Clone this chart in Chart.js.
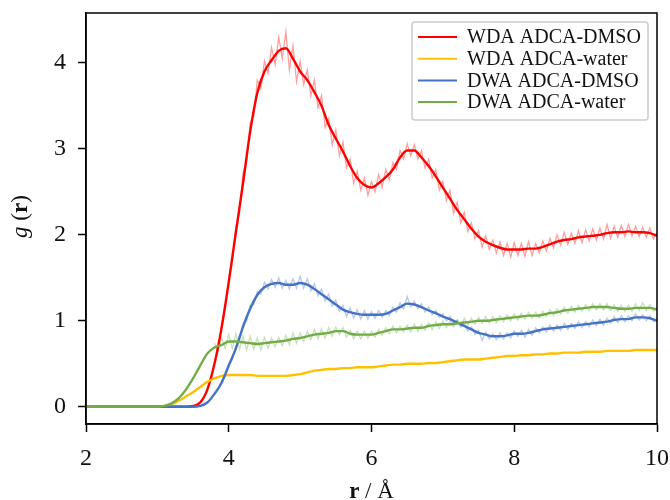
<!DOCTYPE html>
<html lang="en">
<head>
    <meta charset="UTF-8">
    <title>g(r) ADCA</title>
    <style>
        html, body { margin: 0; padding: 0; background: #fff; }
        .chart-container { width: 670px; height: 500px; }
    </style>
</head>
<body>
    <div class="chart-container">
        <canvas id="rdfChart"></canvas>
    </div>

    <script src="https://cdn.jsdelivr.net/npm/chart.js"></script>
    <script>
        // r grid (Å) for the averaged curves
        const rSmooth = [
            2.0, 2.1, 2.2, 2.3, 2.4, 2.5, 2.6, 2.7, 2.8, 2.9,
            3.0, 3.1, 3.2, 3.3, 3.4, 3.5, 3.6, 3.7, 3.8, 3.9,
            4.0, 4.1, 4.2, 4.3, 4.4, 4.5, 4.6, 4.7, 4.8, 4.9,
            5.0, 5.1, 5.2, 5.3, 5.4, 5.5, 5.6, 5.7, 5.8, 5.9,
            6.0, 6.1, 6.2, 6.3, 6.4, 6.5, 6.6, 6.7, 6.8, 6.9,
            7.0, 7.1, 7.2, 7.3, 7.4, 7.5, 7.6, 7.7, 7.8, 7.9,
            8.0, 8.1, 8.2, 8.3, 8.4, 8.5, 8.6, 8.7, 8.8, 8.9,
            9.0, 9.1, 9.2, 9.3, 9.4, 9.5, 9.6, 9.7, 9.8, 9.9,
            10.0
        ];

        const wdaDmso = [
            0, 0, 0, 0, 0, 0, 0, 0, 0, 0,
            0, 0, 0, 0, 0, 0.01, 0.05, 0.2, 0.5, 0.92,
            1.45, 2.03, 2.6, 3.2, 3.65, 3.9, 4.03, 4.14, 4.17, 4.05,
            3.9, 3.8, 3.66, 3.5, 3.28, 3.12, 2.97, 2.8, 2.66, 2.58,
            2.55, 2.6, 2.67, 2.76, 2.9, 2.98, 2.98, 2.9, 2.8, 2.68,
            2.55, 2.42, 2.29, 2.18, 2.07, 1.98, 1.92, 1.88, 1.85, 1.83,
            1.83, 1.83, 1.84, 1.84, 1.86, 1.89, 1.92, 1.94, 1.95, 1.97,
            1.98, 1.99, 2.0, 2.02, 2.03, 2.03, 2.04, 2.03, 2.03, 2.02,
            1.99
        ];

        const wdaWater = [
            0, 0, 0, 0, 0, 0, 0, 0, 0, 0,
            0, 0.01, 0.03, 0.07, 0.12, 0.17, 0.23, 0.29, 0.33, 0.36,
            0.37, 0.37, 0.37, 0.37, 0.36, 0.36, 0.36, 0.36, 0.36, 0.37,
            0.38, 0.4, 0.42, 0.43, 0.44, 0.44, 0.45, 0.45, 0.46, 0.46,
            0.46, 0.47, 0.48, 0.49, 0.49, 0.5, 0.5, 0.5, 0.51, 0.51,
            0.52, 0.53, 0.54, 0.55, 0.55, 0.55, 0.56, 0.57, 0.58, 0.59,
            0.59, 0.6, 0.6, 0.61, 0.61, 0.62, 0.62, 0.63, 0.63, 0.63,
            0.64, 0.64, 0.64, 0.65, 0.65, 0.65, 0.65, 0.66, 0.66, 0.66,
            0.66
        ];

        const dwaDmso = [
            0, 0, 0, 0, 0, 0, 0, 0, 0, 0,
            0, 0, 0, 0, 0, 0, 0.01, 0.05, 0.15, 0.28,
            0.48, 0.68, 0.93, 1.14, 1.3, 1.39, 1.43, 1.44, 1.42, 1.42,
            1.44, 1.42, 1.37, 1.31, 1.25, 1.19, 1.13, 1.1, 1.08, 1.07,
            1.07, 1.07, 1.08, 1.12, 1.16, 1.2, 1.19, 1.16, 1.12, 1.09,
            1.05, 1.02, 0.98, 0.94, 0.9, 0.86, 0.84, 0.82, 0.82, 0.83,
            0.85, 0.85, 0.86, 0.88, 0.9, 0.91, 0.92, 0.93, 0.94, 0.95,
            0.96, 0.97, 0.98, 0.99, 1.01, 1.02, 1.02, 1.04, 1.04, 1.03,
            1.0
        ];

        const dwaWater = [
            0, 0, 0, 0, 0, 0, 0, 0, 0, 0,
            0, 0.01, 0.04, 0.1, 0.2, 0.33, 0.48, 0.62, 0.69, 0.72,
            0.76, 0.76, 0.75, 0.74, 0.73, 0.74, 0.75, 0.76, 0.77, 0.79,
            0.8, 0.82, 0.84, 0.85, 0.86, 0.88, 0.88, 0.85, 0.84, 0.84,
            0.84, 0.86, 0.88, 0.9, 0.9, 0.91, 0.92, 0.92, 0.94, 0.95,
            0.96, 0.96, 0.97, 0.98, 0.99, 1.0, 1.0, 1.01, 1.02, 1.03,
            1.04, 1.05, 1.06, 1.06, 1.07, 1.09, 1.1, 1.12, 1.13, 1.14,
            1.15, 1.16, 1.16, 1.16, 1.15, 1.14, 1.14, 1.15, 1.15, 1.15,
            1.13
        ];

        // r grid (Å) for the raw, unaveraged curves
        const rRaw = [
            3.8, 3.85, 3.9, 3.95,
            4.0, 4.05, 4.1, 4.15, 4.2, 4.25, 4.3, 4.35, 4.4, 4.45,
            4.5, 4.55, 4.6, 4.65, 4.7, 4.75, 4.8, 4.85, 4.9, 4.95,
            5.0, 5.05, 5.1, 5.15, 5.2, 5.25, 5.3, 5.35, 5.4, 5.45,
            5.5, 5.55, 5.6, 5.65, 5.7, 5.75, 5.8, 5.85, 5.9, 5.95,
            6.0, 6.05, 6.1, 6.15, 6.2, 6.25, 6.3, 6.35, 6.4, 6.45,
            6.5, 6.55, 6.6, 6.65, 6.7, 6.75, 6.8, 6.85, 6.9, 6.95,
            7.0, 7.05, 7.1, 7.15, 7.2, 7.25, 7.3, 7.35, 7.4, 7.45,
            7.5, 7.55, 7.6, 7.65, 7.7, 7.75, 7.8, 7.85, 7.9, 7.95,
            8.0, 8.05, 8.1, 8.15, 8.2, 8.25, 8.3, 8.35, 8.4, 8.45,
            8.5, 8.55, 8.6, 8.65, 8.7, 8.75, 8.8, 8.85, 8.9, 8.95,
            9.0, 9.05, 9.1, 9.15, 9.2, 9.25, 9.3, 9.35, 9.4, 9.45,
            9.5, 9.55, 9.6, 9.65, 9.7, 9.75, 9.8, 9.85, 9.9, 9.95,
            10.0
        ];

        const wdaDmsoRaw = [
            0.52, 0.66, 0.96, 1.14,
            1.50, 1.70, 2.10, 2.25, 2.72, 2.85, 3.30, 3.38, 3.80, 3.70,
            4.02, 3.88, 4.18, 3.98, 4.30, 4.05, 4.36, 3.92, 4.20, 3.78,
            4.02, 3.75, 3.92, 3.62, 3.80, 3.48, 3.62, 3.25, 3.35, 3.05,
            3.22, 2.92, 3.08, 2.78, 2.88, 2.60, 2.74, 2.52, 2.66, 2.46,
            2.62, 2.50, 2.70, 2.55, 2.76, 2.64, 2.84, 2.76, 2.98, 2.88,
            3.06, 2.92, 3.05, 2.88, 2.98, 2.78, 2.88, 2.66, 2.76, 2.52,
            2.62, 2.40, 2.52, 2.25, 2.38, 2.14, 2.26, 2.04, 2.14, 1.95,
            2.05, 1.86, 1.99, 1.83, 1.94, 1.79, 1.92, 1.76, 1.90, 1.74,
            1.91, 1.76, 1.90, 1.75, 1.92, 1.76, 1.90, 1.79, 1.93, 1.81,
            1.96, 1.85, 2.00, 1.88, 2.03, 1.89, 2.02, 1.90, 2.05, 1.91,
            2.06, 1.93, 2.07, 1.94, 2.08, 1.95, 2.12, 1.96, 2.10, 1.97,
            2.11, 1.98, 2.12, 1.99, 2.10, 1.98, 2.09, 1.97, 2.08, 1.95,
            2.03
        ];

        const dwaDmsoRaw = [
            0.16, 0.20, 0.30, 0.36,
            0.50, 0.55, 0.71, 0.77, 0.97, 1.00, 1.18, 1.19, 1.34, 1.31,
            1.45, 1.37, 1.48, 1.39, 1.50, 1.38, 1.47, 1.37, 1.49, 1.38,
            1.52, 1.38, 1.49, 1.35, 1.43, 1.29, 1.37, 1.23, 1.31, 1.17,
            1.24, 1.11, 1.18, 1.05, 1.15, 1.03, 1.13, 1.02, 1.12, 1.02,
            1.11, 1.03, 1.12, 1.04, 1.12, 1.06, 1.16, 1.10, 1.21, 1.14,
            1.28, 1.16, 1.23, 1.14, 1.20, 1.10, 1.16, 1.07, 1.12, 1.04,
            1.08, 1.00, 1.05, 0.97, 1.01, 0.93, 0.97, 0.88, 0.93, 0.84,
            0.89, 0.77, 0.87, 0.79, 0.85, 0.78, 0.86, 0.79, 0.86, 0.80,
            0.88, 0.82, 0.89, 0.81, 0.90, 0.83, 0.92, 0.86, 0.93, 0.87,
            0.95, 0.88, 0.95, 0.89, 0.97, 0.90, 0.97, 0.91, 0.99, 0.92,
            0.99, 0.93, 1.01, 0.94, 1.02, 0.95, 1.03, 0.97, 1.05, 0.98,
            1.06, 0.99, 1.06, 1.00, 1.08, 1.01, 1.07, 1.00, 1.06, 0.99,
            1.02
        ];

        const dwaWaterRaw = [
            0.74, 0.64, 0.80, 0.68,
            0.84, 0.68, 0.85, 0.67, 0.83, 0.66, 0.82, 0.67, 0.80, 0.66,
            0.81, 0.68, 0.80, 0.70, 0.81, 0.71, 0.83, 0.72, 0.86, 0.74,
            0.86, 0.76, 0.88, 0.78, 0.90, 0.79, 0.91, 0.80, 0.92, 0.82,
            0.93, 0.84, 0.92, 0.81, 0.89, 0.79, 0.88, 0.79, 0.88, 0.80,
            0.88, 0.81, 0.90, 0.83, 0.92, 0.85, 0.94, 0.86, 0.94, 0.87,
            0.95, 0.87, 0.96, 0.88, 0.96, 0.89, 0.98, 0.90, 0.99, 0.91,
            1.00, 0.92, 1.00, 0.93, 1.01, 0.94, 1.03, 0.95, 1.03, 0.96,
            1.04, 0.97, 1.05, 0.97, 1.05, 0.98, 1.06, 0.99, 1.07, 1.00,
            1.08, 1.01, 1.09, 1.02, 1.10, 1.03, 1.10, 1.03, 1.11, 1.05,
            1.13, 1.06, 1.14, 1.08, 1.16, 1.09, 1.17, 1.10, 1.18, 1.11,
            1.19, 1.12, 1.20, 1.13, 1.20, 1.13, 1.20, 1.12, 1.19, 1.11,
            1.18, 1.11, 1.18, 1.11, 1.20, 1.12, 1.21, 1.12, 1.19, 1.11,
            1.16
        ];

        const xTicks = [2, 4, 6, 8, 10];
        const yTicks = [0, 1, 2, 3, 4];

        const RED = '#ff0000', GOLD = '#ffc000', BLUE = '#4472c4', GREEN = '#70ad47';
        const SERIF = '"Liberation Serif", "Times New Roman", serif';

        function pts(xs, ys) {
            return xs.map((x, i) => ({ x: x, y: ys[i] }));
        }

        function rawLine(data, color) {
            return {
                data: pts(rRaw, data), borderColor: color, borderWidth: 1.3,
                pointRadius: 0, tension: 0, order: 10, inLegend: false
            };
        }

        function mainLine(label, data, color, order) {
            return {
                label: label, data: pts(rSmooth, data), borderColor: color, borderWidth: 2.4,
                pointRadius: 0, cubicInterpolationMode: 'monotone', order: order, inLegend: true
            };
        }

        // legend box in the upper right, matplotlib style
        const legendBox = {
            id: 'legendBox',
            afterDraw(chart) {
                const ctx = chart.ctx;
                const items = chart.data.datasets.filter(d => d.inLegend);
                const x0 = 412, y0 = 22, w = 236, h = 98;
                ctx.save();
                ctx.fillStyle = 'rgba(255,255,255,0.85)';
                ctx.strokeStyle = '#cccccc';
                ctx.lineWidth = 1.5;
                ctx.beginPath();
                ctx.roundRect(x0, y0, w, h, 3);
                ctx.fill();
                ctx.stroke();
                ctx.font = '20px ' + SERIF;
                ctx.textBaseline = 'middle';
                items.forEach((d, i) => {
                    const y = y0 + 15 + i * 21.7;
                    ctx.strokeStyle = d.borderColor;
                    ctx.lineWidth = 2;
                    ctx.beginPath();
                    ctx.moveTo(418, y);
                    ctx.lineTo(457, y);
                    ctx.stroke();
                    ctx.fillStyle = '#111';
                    ctx.fillText(d.label, 467, y + 1);
                });
                ctx.restore();
            }
        };

        // closes the frame and writes the axis titles with mixed font styles
        const frameAndTitles = {
            id: 'frameAndTitles',
            afterDraw(chart) {
                const ctx = chart.ctx;
                const a = chart.chartArea;
                ctx.save();
                ctx.strokeStyle = '#000';
                ctx.lineWidth = 1.5;
                ctx.strokeRect(a.left, a.top, a.right - a.left, a.bottom - a.top);

                ctx.fillStyle = '#111';
                ctx.textBaseline = 'alphabetic';

                function drawParts(parts, cx, cy) {
                    let total = 0;
                    parts.forEach(p => { ctx.font = p[1] + ' 23px ' + SERIF; total += ctx.measureText(p[0]).width; });
                    let x = cx - total / 2;
                    parts.forEach(p => {
                        ctx.font = p[1] + ' 23px ' + SERIF;
                        ctx.fillText(p[0], x, cy);
                        x += ctx.measureText(p[0]).width;
                    });
                }

                // x title: r / Å
                drawParts([['r', 'bold'], [' / Å', 'normal']], (a.left + a.right) / 2, 498);

                // y title: g (r)
                ctx.translate(27, (a.top + a.bottom) / 2 - 2);
                ctx.rotate(-Math.PI / 2);
                drawParts([['g', 'italic'], [' (', 'normal'], ['r', 'bold'], [')', 'normal']], 0, 0);
                ctx.restore();
            }
        };

        const ctx = document.getElementById('rdfChart').getContext('2d');

        new Chart(ctx, {
            type: 'line',
            data: {
                datasets: [
                    mainLine('WDA ADCA-DMSO', wdaDmso, RED, 4),
                    mainLine('WDA ADCA-water', wdaWater, GOLD, 3),
                    mainLine('DWA ADCA-DMSO', dwaDmso, BLUE, 2),
                    mainLine('DWA ADCA-water', dwaWater, GREEN, 1),
                    rawLine(wdaDmsoRaw, 'rgba(255,0,0,0.38)'),
                    rawLine(dwaDmsoRaw, 'rgba(68,114,196,0.38)'),
                    rawLine(dwaWaterRaw, 'rgba(112,173,71,0.38)')
                ]
            },
            options: {
                responsive: true,
                maintainAspectRatio: false,
                animation: false,
                layout: { padding: { top: 13, right: 13, left: 0, bottom: 0 } },
                plugins: {
                    legend: { display: false },
                    tooltip: { enabled: false }
                },
                scales: {
                    x: {
                        type: 'linear',
                        min: 2,
                        max: 10,
                        afterBuildTicks: s => { s.ticks = xTicks.map(v => ({ value: v })); },
                        afterFit: s => { s.height = 76; s.paddingLeft = 0; s.paddingRight = 0; },
                        grid: { drawOnChartArea: false, drawTicks: true, tickLength: 8, tickWidth: 1.5, tickColor: '#000' },
                        border: { color: '#000', width: 1.5 },
                        ticks: {
                            color: '#111',
                            padding: 12,
                            maxRotation: 0,
                            font: { family: SERIF, size: 24 }
                        }
                    },
                    y: {
                        type: 'linear',
                        min: -0.2,
                        max: 4.58,
                        afterBuildTicks: s => { s.ticks = yTicks.map(v => ({ value: v })); },
                        afterFit: s => { s.width = 86; s.paddingTop = 0; s.paddingBottom = 0; },
                        grid: { drawOnChartArea: false, drawTicks: true, tickLength: 8, tickWidth: 1.5, tickColor: '#000' },
                        border: { color: '#000', width: 1.5 },
                        ticks: {
                            color: '#111',
                            padding: 12,
                            font: { family: SERIF, size: 24 }
                        }
                    }
                }
            },
            plugins: [legendBox, frameAndTitles]
        });
    </script>
</body>
</html>
